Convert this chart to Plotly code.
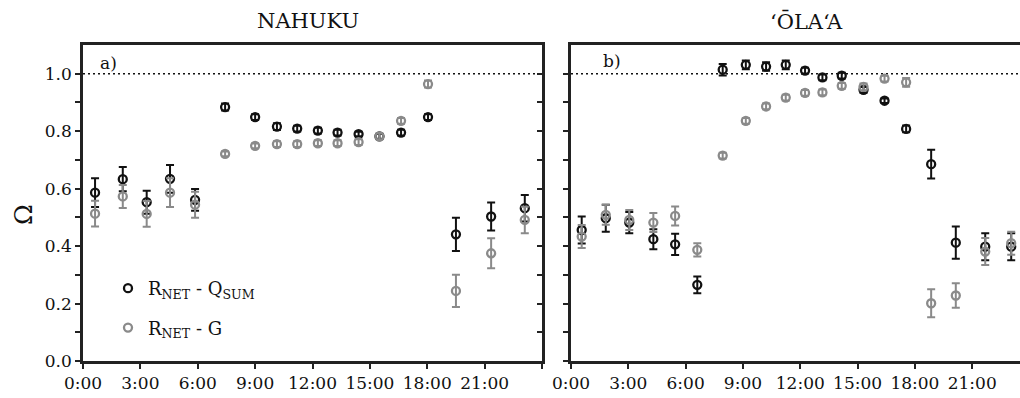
import plotly.graph_objects as go

# ---------------- data ----------------
tick_hours = [0, 3, 6, 9, 12, 15, 18, 21, 24]
tick_labels = ["0:00", "3:00", "6:00", "9:00", "12:00", "15:00", "18:00", "21:00", ""]

nah_hours = [0.63, 2.08, 3.33, 4.55, 5.86, 7.43, 9.0, 10.14, 11.2, 12.28, 13.31, 14.41,
             15.5, 16.63, 18.04, 19.5, 21.34, 23.1]
nah_qsum = [0.586, 0.633, 0.553, 0.634, 0.561, 0.884, 0.849, 0.816, 0.809, 0.802, 0.795, 0.79,
            0.782, 0.795, 0.849, 0.441, 0.503, 0.532]
nah_qsum_err = [0.05, 0.042, 0.04, 0.048, 0.038, 0.012, 0.01, 0.012, 0.01, 0.01, 0.01, 0.008,
                0.008, 0.01, 0.01, 0.058, 0.049, 0.046]
nah_g = [0.513, 0.573, 0.512, 0.586, 0.544, 0.721, 0.749, 0.755, 0.755, 0.758, 0.758, 0.762,
         0.782, 0.836, 0.964, 0.244, 0.375, 0.491]
nah_g_err = [0.045, 0.04, 0.045, 0.05, 0.045, 0.008, 0.008, 0.01, 0.01, 0.01, 0.01, 0.01,
             0.01, 0.01, 0.012, 0.056, 0.052, 0.046]

ola_hours = [0.56, 1.82, 3.05, 4.31, 5.45, 6.61, 7.94, 9.15, 10.21, 11.24, 12.25, 13.16,
             14.17, 15.31, 16.41, 17.54, 18.85, 20.14, 21.68, 23.04]
ola_qsum = [0.456, 0.497, 0.482, 0.424, 0.406, 0.265, 1.014, 1.031, 1.025, 1.031, 1.011, 0.987,
            0.993, 0.944, 0.906, 0.808, 0.685, 0.412, 0.398, 0.398]
ola_qsum_err = [0.047, 0.047, 0.037, 0.035, 0.037, 0.029, 0.02, 0.015, 0.015, 0.015, 0.01, 0.01,
                0.01, 0.01, 0.008, 0.012, 0.05, 0.056, 0.047, 0.047]
ola_g = [0.433, 0.509, 0.491, 0.482, 0.505, 0.387, 0.715, 0.836, 0.886, 0.917, 0.933, 0.935,
         0.958, 0.954, 0.983, 0.97, 0.201, 0.228, 0.381, 0.41]
ola_g_err = [0.04, 0.035, 0.035, 0.033, 0.033, 0.023, 0.01, 0.01, 0.01, 0.01, 0.01, 0.01,
             0.01, 0.012, 0.01, 0.015, 0.049, 0.043, 0.047, 0.04]

y_ticks = [0, 0.2, 0.4, 0.6, 0.8, 1.0]
y_minor = [0.1, 0.3, 0.5, 0.7, 0.9]

panel_titles = ["NAHUKU", "\u02bb\u014cLA\u02bbA"]
series_names = ["R<sub>NET</sub> - Q<sub>SUM</sub>", "R<sub>NET</sub> - G"]

# ---------------- style ----------------
FONT = "DejaVu Serif"
BLACK = "#111111"
GRAY = "#8a8a8a"
AXC = "#222222"
W, H = 1020, 398
ML, MR, MT, MB = 0, 0, 45, 37

fig = go.Figure()


def add_series(x, y, err, color, xa, ya):
    fig.add_trace(go.Scatter(
        x=x, y=y, mode="markers", xaxis=xa, yaxis=ya, showlegend=False,
        marker=dict(symbol="circle-open", size=8, color=color, line=dict(width=2.3, color=color)),
        error_y=dict(type="data", array=err, visible=True, color=color, thickness=2, width=4),
        cliponaxis=False,
    ))


add_series(nah_hours, nah_qsum, nah_qsum_err, BLACK, "x", "y")
add_series(nah_hours, nah_g, nah_g_err, GRAY, "x", "y")
add_series(ola_hours, ola_qsum, ola_qsum_err, BLACK, "x2", "y2")
add_series(ola_hours, ola_g, ola_g_err, GRAY, "x2", "y2")

# legend-only traces
for name, col, grp in [(series_names[0], BLACK, "a"), (series_names[1], GRAY, "b")]:
    fig.add_trace(go.Scatter(
        x=[None], y=[None], mode="markers", name=name, legendgroup=grp, xaxis="x", yaxis="y",
        marker=dict(symbol="circle-open", size=8, color=col, line=dict(width=2.3, color=col)),
    ))

axis_common = dict(
    showgrid=False, zeroline=False, showline=True, linecolor=AXC, linewidth=2.5,
    tickfont=dict(family=FONT, size=17, color="#111"), tickcolor=AXC, tickwidth=2, ticklen=5,
    automargin=False,
)
minor_out = dict(tickvals=y_minor, ticks="outside", ticklen=5, tickwidth=2, tickcolor=AXC)
minor_in = dict(tickvals=y_minor, ticks="inside", ticklen=5, tickwidth=2, tickcolor=AXC)

fig.update_layout(
    width=W, height=H,
    margin=dict(l=ML, r=MR, t=MT, b=MB, autoexpand=False),
    paper_bgcolor="white", plot_bgcolor="white",
    font=dict(family=FONT, color="#111"),
    xaxis=dict(**axis_common, domain=[83 / W, 542 / W], range=[0, 24], tickvals=tick_hours,
               ticktext=tick_labels, ticks="outside", mirror=True, anchor="y"),
    yaxis=dict(**axis_common, range=[0, 1.1], tickvals=y_ticks, tickformat=".1f",
               ticks="outside", anchor="x", minor=minor_out),
    yaxis3=dict(**{k: v for k, v in axis_common.items() if k != "tickfont"},
                range=[0, 1.1], overlaying="y", side="right", anchor="x",
                tickvals=y_ticks, ticks="inside", showticklabels=False, minor=minor_in),
    xaxis2=dict(**axis_common, domain=[571 / W, 1.0], range=[0, 23.5], tickvals=tick_hours,
                ticktext=tick_labels, ticks="outside", mirror=True, anchor="y2"),
    yaxis2=dict(**axis_common, range=[0, 1.1], anchor="x2", tickvals=y_ticks,
                showticklabels=False, ticks="outside", minor=minor_out),
    legend=dict(x=108 / W, y=(H - MB - 270) / (H - MT - MB), xanchor="left", yanchor="top",
                bgcolor="rgba(0,0,0,0)", font=dict(family=FONT, size=18, color="#111"),
                tracegroupgap=13, itemwidth=30),
    showlegend=True,
)

# anchor dummy trace for yaxis3 so it renders
fig.add_trace(go.Scatter(x=[None], y=[None], xaxis="x", yaxis="y3", showlegend=False,
                         hoverinfo="skip"))

# dotted reference lines at 1.0
for xr, yr in [("x domain", "y"), ("x2 domain", "y2")]:
    fig.add_shape(type="line", xref=xr, yref=yr, x0=0, x1=1, y0=1.0, y1=1.0,
                  line=dict(color=BLACK, width=1.6, dash="2px,3px"), layer="below")


def py(px):
    return (H - MB - px) / (H - MT - MB)


def note(text, xpx, ypx, size, angle=0):
    fig.add_annotation(text=text, x=xpx / W, y=py(ypx), xref="paper", yref="paper",
                       xanchor="center", yanchor="middle", showarrow=False, textangle=angle,
                       font=dict(family=FONT, size=size, color="#111"))


note(panel_titles[0], 308, 21, 21)
note(panel_titles[1], 806, 21, 21)
note("a)", 108, 63, 17)
note("b)", 612, 61, 17)
note("\u03a9", 23, 215, 25, angle=-90)

fig.write_html("out.html")
